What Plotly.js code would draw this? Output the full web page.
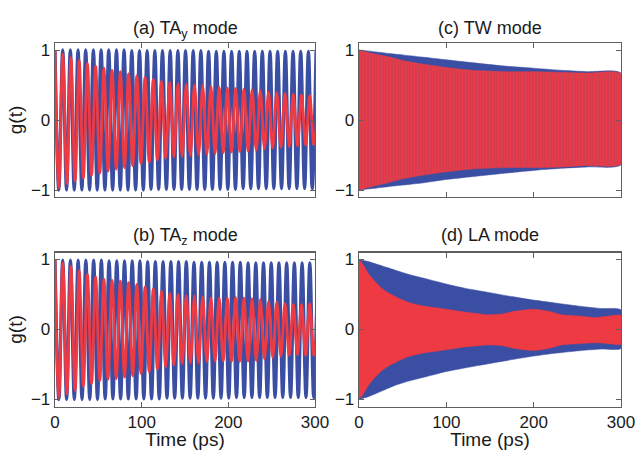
<!DOCTYPE html>
<html>
<head>
<meta charset="utf-8">
<script src="https://cdn.plot.ly/plotly-3.0.1.min.js"></script>
<style>html,body{margin:0;padding:0;background:#fff;}#chart{width:640px;height:450px;}</style>
</head>
<body>
<div id="chart"></div>
<script>
// ---- Panel titles and tick labels ----
const panelTitles = ["(a) TA<sub>y</sub> mode", "(c) TW mode", "(b) TA<sub>z</sub> mode", "(d) LA mode"];
const timeTicks = [0, 100, 200, 300];
const gTicks = [-1, 0, 1];
const gTickText = ["\u22121", "0", "1"];

// ---- (a) TAy: extrema of blue and red curves (time ps, g) ----
const aBlueT = [0,4.4,8.9,13.3,17.7,22.2,26.6,31.0,35.4,39.9,44.3,48.7,53.2,57.6,62.0,66.5,70.9,75.3,79.7,84.2,88.6,93.0,97.5,101.9,106.3,110.8,115.2,119.6,124.0,128.5,132.9,137.3,141.8,146.2,150.6,155.1,159.5,163.9,168.3,172.8,177.2,181.6,186.1,190.5,194.9,199.4,203.8,208.2,212.6,217.1,221.5,225.9,230.4,234.8,239.2,243.7,248.1,252.5,256.9,261.4,265.8,270.2,274.7,279.1,283.5,288.0,292.4,296.8,301.2];
const aBlueG = [1.00,-1.00,1.00,-1.00,1.00,-1.00,1.00,-1.00,1.00,-1.00,1.00,-1.00,1.00,-1.00,1.00,-1.00,1.00,-1.00,1.00,-1.00,
  0.99,-1.00,0.99,-1.00,0.99,-0.99,0.99,-0.99,0.99,-0.99,0.99,-0.99,0.99,-0.99,0.99,-0.99,0.99,-0.99,0.99,-0.99,
  0.98,-0.99,0.98,-0.99,0.98,-0.99,0.98,-0.99,0.98,-0.98,0.98,-0.98,0.98,-0.98,0.98,-0.98,0.98,-0.98,0.98,-0.98,
  0.98,-0.98,0.98,-0.98,0.98,-0.98,0.98,-0.98,0.98];
const redT = [0,4.4,9.0,13.7,18.4,23.2,27.9,32.7,37.4,42.2,46.9,51.7,56.4,61.2,65.9,70.7,75.4,80.2,84.9,89.7,94.4,99.2,103.9,108.7,113.4,118.2,122.9,127.7,132.4,137.2,141.9,146.7,151.4,156.2,160.9,165.7,170.4,175.2,179.9,184.7,189.4,194.2,198.9,203.7,208.4,213.2,217.9,222.7,227.4,232.2,236.9,241.7,246.4,251.2,255.9,260.7,265.4,270.2,274.9,279.7,284.4,289.2,293.9,298.7,303.4];
const aRedG = [1.00,-0.97,0.94,-0.91,0.89,-0.87,0.85,-0.83,0.81,-0.79,0.77,-0.76,0.74,-0.73,0.71,-0.70,0.69,-0.68,0.66,-0.65,
  0.63,-0.62,0.61,-0.60,0.58,-0.57,0.56,-0.55,0.54,-0.53,0.52,-0.52,0.51,-0.51,0.50,-0.50,0.49,-0.49,0.48,-0.48,
  0.47,-0.47,0.46,-0.46,0.45,-0.45,0.44,-0.44,0.43,-0.43,0.42,-0.41,0.40,-0.40,0.39,-0.39,0.38,-0.38,0.37,-0.37,
  0.36,-0.36,0.35,-0.35,0.34];

// ---- (b) TAz ----
const bBlueT = [0,4.5,8.9,13.4,17.8,22.3,26.7,31.2,35.6,40.1,44.6,49.0,53.5,57.9,62.4,66.8,71.3,75.7,80.2,84.6,89.1,93.6,98.0,102.5,106.9,111.4,115.8,120.3,124.7,129.2,133.7,138.1,142.6,147.0,151.5,155.9,160.4,164.8,169.3,173.7,178.2,182.7,187.1,191.6,196.0,200.5,204.9,209.4,213.8,218.3,222.8,227.2,231.7,236.1,240.6,245.0,249.5,253.9,258.4,262.8,267.3,271.8,276.2,280.7,285.1,289.6,294.0,298.5,302.9];
const bBlueG = [1.00,-1.00,0.99,-1.00,0.99,-1.00,0.99,-1.00,0.99,-1.00,0.99,-1.00,0.99,-0.99,0.98,-0.99,0.98,-0.99,0.98,-0.99,
  0.98,-0.99,0.98,-0.99,0.97,-0.99,0.97,-0.99,0.97,-0.98,0.97,-0.98,0.97,-0.98,0.97,-0.98,0.96,-0.98,0.96,-0.98,
  0.96,-0.98,0.96,-0.98,0.96,-0.98,0.96,-0.97,0.96,-0.97,0.95,-0.97,0.95,-0.97,0.95,-0.97,0.95,-0.97,0.95,-0.97,
  0.95,-0.97,0.95,-0.97,0.95,-0.97,0.95,-0.97,0.95];
const bRedG = [1.00,-0.97,0.95,-0.92,0.90,-0.87,0.84,-0.81,0.79,-0.77,
  0.75,-0.73,0.72,-0.71,0.70,-0.70,0.69,-0.68,0.67,-0.66,
  0.64,-0.63,0.61,-0.60,0.58,-0.57,0.55,-0.54,0.52,-0.51,
  0.50,-0.49,0.48,-0.48,0.48,-0.48,0.47,-0.46,0.45,-0.45,
  0.45,-0.45,0.45,-0.46,0.46,-0.46,0.45,-0.45,0.44,-0.44,
  0.43,-0.42,0.40,-0.40,0.39,-0.38,0.37,-0.37,0.36,-0.36,
  0.36,-0.37,0.37,-0.37,0.37];

// ---- (c) TW: envelopes of the dense oscillation ----
const cT = [0,15,35,50,72,100,129,167,200,232,262,300];
const cBlueUp = [1.00,0.98,0.95,0.93,0.90,0.86,0.82,0.77,0.74,0.71,0.69,0.67];
const cBlueLo = [-1.00,-0.98,-0.95,-0.93,-0.90,-0.85,-0.81,-0.76,-0.72,-0.69,-0.67,-0.64];
const cRedUp = [1.00,0.95,0.90,0.85,0.80,0.75,0.71,0.69,0.69,0.68,0.67,0.66];
const cRedLo = [-1.00,-0.95,-0.89,-0.84,-0.79,-0.74,-0.70,-0.68,-0.68,-0.67,-0.65,-0.63];

// ---- (d) LA: envelopes ----
const dBlueT = [0,10.7,26,41,56,72,100,121,148,175,200,224,255,278,300];
const dBlueUp = [1.00,0.97,0.91,0.85,0.79,0.74,0.65,0.59,0.53,0.47,0.42,0.38,0.33,0.30,0.28];
const dBlueLo = [-1.00,-0.96,-0.88,-0.80,-0.74,-0.69,-0.60,-0.55,-0.49,-0.43,-0.38,-0.34,-0.30,-0.28,-0.27];
const dRedT = [0,5,10.7,18,26,34,45,56,72,100,121,148,163,178,200,217,232,255,270,285,300];
const dRedUp = [1.00,0.92,0.80,0.69,0.59,0.52,0.45,0.39,0.34,0.29,0.25,0.21,0.22,0.26,0.29,0.26,0.21,0.19,0.17,0.19,0.20];
const dRedLo = [-1.00,-0.92,-0.80,-0.69,-0.59,-0.52,-0.45,-0.39,-0.34,-0.29,-0.25,-0.22,-0.23,-0.27,-0.30,-0.27,-0.22,-0.20,-0.19,-0.20,-0.21];

// ---- style ----
const BLUE = "#3a4ea3";
const RED = "#ee3a43";
const FONT = "Liberation Sans, Arial, Helvetica, sans-serif";
const TXT = "#1a1a1a";

function wave(t, g, color, width, xa, ya) {
  return {x: t, y: g, xaxis: xa, yaxis: ya, mode: "lines", type: "scatter",
    line: {color: color, width: width, shape: "spline", smoothing: 1}, hoverinfo: "skip"};
}
function band(t, up, lo, color, xa, ya, pattern) {
  const xs = t.concat(t.slice().reverse());
  const ys = up.concat(lo.slice().reverse());
  const tr = {x: xs, y: ys, xaxis: xa, yaxis: ya, mode: "lines", type: "scatter", fill: "toself",
    fillcolor: color, line: {color: color, width: 0.5, shape: "spline", smoothing: 0.6}, hoverinfo: "skip"};
  if (pattern) tr.fillpattern = pattern;
  return tr;
}

// the dense TW oscillation is seen as fine vertical stripes
const twStripes = {shape: "|", fgcolor: RED, bgcolor: "rgba(238,58,67,0.55)", size: 3, solidity: 0.8, fillmode: "replace"};

const data = [
  wave(aBlueT, aBlueG, BLUE, 3.3, "x", "y"),
  wave(redT, aRedG, RED, 2.8, "x", "y"),
  band(cT, cBlueUp, cBlueLo, BLUE, "x2", "y2"),
  band(cT, cRedUp, cRedLo, RED, "x2", "y2", twStripes),
  wave(bBlueT, bBlueG, BLUE, 3.3, "x3", "y3"),
  wave(redT, bRedG, RED, 2.8, "x3", "y3"),
  band(dBlueT, dBlueUp, dBlueLo, BLUE, "x4", "y4"),
  band(dRedT, dRedUp, dRedLo, RED, "x4", "y4")
];

const W = 640, H = 450;
const colX = [[55, 315], [359, 621]];
const rowY = [[43, 197], [252.5, 406.5]];
function dx(c) { return [colX[c][0] / W, colX[c][1] / W]; }
function dy(r) { return [1 - rowY[r][1] / H, 1 - rowY[r][0] / H]; }

function xAxis(c, r, anchor, showLabels) {
  const ax = {domain: dx(c), anchor: anchor, range: [0, 300], tickvals: timeTicks, ticktext: timeTicks.map(String),
    showticklabels: showLabels, ticks: "inside", ticklen: 5, tickcolor: "#5f5f5f", tickwidth: 1,
    showline: true, linecolor: "#5f5f5f", linewidth: 1.3, mirror: "ticks", showgrid: false, zeroline: false,
    tickfont: {family: FONT, size: 17, color: TXT}, fixedrange: true};
  if (showLabels) ax.title = {text: "Time (ps)", font: {family: FONT, size: 19, color: TXT}, standoff: 1};
  return ax;
}
function yAxis(c, r, anchor) {
  const ax = {domain: dy(r), anchor: anchor, range: [-1.1, 1.1], tickvals: gTicks, ticktext: gTickText,
    ticks: "inside", ticklen: 5, tickcolor: "#5f5f5f", tickwidth: 1,
    showline: true, linecolor: "#5f5f5f", linewidth: 1.3, mirror: "ticks", showgrid: false, zeroline: false,
    tickfont: {family: FONT, size: 17, color: TXT}, fixedrange: true};
  if (c === 0) ax.title = {text: "g(t)", font: {family: FONT, size: 19, color: TXT}, standoff: 3};
  return ax;
}

const annotations = [
  {text: panelTitles[0], x: (dx(0)[0] + dx(0)[1]) / 2, y: 1 - 30 / H},
  {text: panelTitles[1], x: (dx(1)[0] + dx(1)[1]) / 2, y: 1 - 28 / H},
  {text: panelTitles[2], x: (dx(0)[0] + dx(0)[1]) / 2, y: 1 - 237 / H},
  {text: panelTitles[3], x: (dx(1)[0] + dx(1)[1]) / 2, y: 1 - 235 / H}
].map(a => Object.assign(a, {xref: "paper", yref: "paper", xanchor: "center", yanchor: "middle",
  showarrow: false, font: {family: FONT, size: 18, color: TXT}}));

const layout = {
  width: W, height: H, margin: {l: 0, r: 0, t: 0, b: 0},
  paper_bgcolor: "#ffffff", plot_bgcolor: "#ffffff", showlegend: false,
  xaxis: xAxis(0, 0, "y", false), yaxis: yAxis(0, 0, "x"),
  xaxis2: xAxis(1, 0, "y2", false), yaxis2: yAxis(1, 0, "x2"),
  xaxis3: xAxis(0, 1, "y3", true), yaxis3: yAxis(0, 1, "x3"),
  xaxis4: xAxis(1, 1, "y4", true), yaxis4: yAxis(1, 1, "x4"),
  annotations: annotations
};

Plotly.newPlot("chart", data, layout, {displayModeBar: false, staticPlot: true}).then(function () {
  // drop the empty placeholder title elements of axes that have no title
  document.querySelectorAll("#chart text").forEach(function (t) {
    if (!t.textContent.trim()) t.parentNode.removeChild(t);
  });
});
</script>
</body>
</html>
